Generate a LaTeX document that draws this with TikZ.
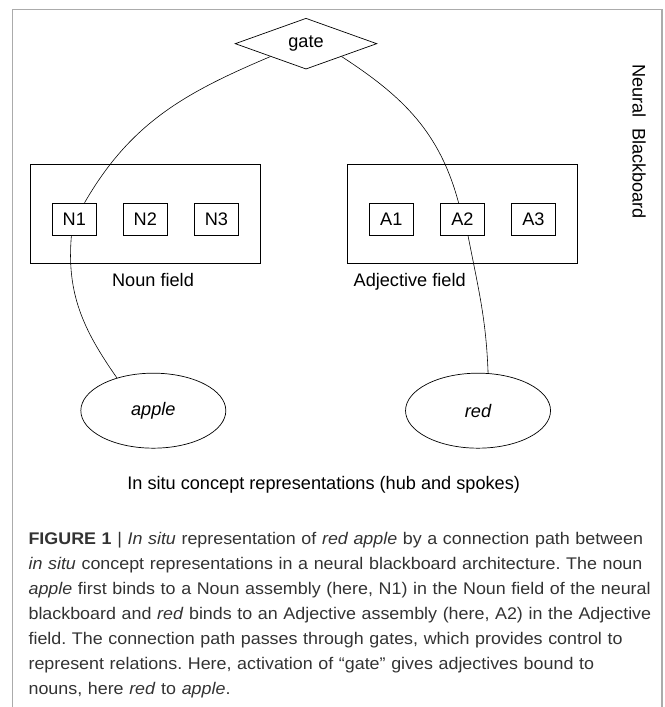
\documentclass[tikz,border=0pt]{standalone}
\usepackage{fontspec}
\setmainfont{Liberation Sans}
\newfontfamily\captionfamily[FakeStretch=1.06]{Liberation Sans}
\usepackage{xcolor}
\usepackage{tikz}
\usetikzlibrary{positioning,shapes.geometric}

\definecolor{framegray}{HTML}{ABABAB}
\definecolor{captiontext}{HTML}{333333}
\newcommand{\diagfont}{\fontsize{15.5}{18}\selectfont}
\newcommand{\captfont}{\captionfamily\fontsize{14.4}{21.3}\selectfont\frenchspacing}

\begin{document}
\begin{tikzpicture}[
        node distance=0.79cm and 0.79cm,
        field/.style={
            draw,
            line width=0.6pt,
            minimum width=6.88cm,
            minimum height=2.97cm
        },
        cell/.style={
            draw,
            line width=0.6pt,
            fill=white,
            inner sep=0pt,
            minimum width=1.32cm,
            minimum height=0.96cm,
            font=\diagfont
        },
        gatenode/.style={
            draw,
            diamond,
            line width=0.6pt,
            inner sep=0pt,
            minimum width=4.25cm,
            minimum height=1.17cm,
            font=\diagfont
        },
        concept/.style={
            draw,
            ellipse,
            line width=0.6pt,
            inner sep=0pt,
            minimum width=4.35cm,
            minimum height=2.25cm,
            font=\diagfont\itshape
        },
        plain/.style={
            inner sep=0pt,
            anchor=base,
            font=\diagfont
        },
        link/.style={line width=0.5pt}
    ]
        \useasboundingbox (0,0) rectangle (19.95,-21.21);

        % Moldura da figura
        \draw[framegray, line width=1pt] (0.38,-21.3) |- (19.86,-0.28) -- (19.86,-21.3);

        % Portão e campos do blackboard
        \node[gatenode] (gate) at (9.18,-1.31) {gate};
        \node[field] (nfield) at (4.36,-6.41) {};
        \node[field, right=2.61cm of nfield] (afield) {};

        % Assembleias de cada campo
        \node[cell, yshift=-0.165cm] (n2) at (nfield.center) {N2};
        \node[cell, left=of n2] (n1) {N1};
        \node[cell, right=of n2] (n3) {N3};

        \node[cell, yshift=-0.165cm] (a2) at (afield.center) {A2};
        \node[cell, left=of a2] (a1) {A1};
        \node[cell, right=of a2] (a3) {A3};

        % Rótulos
        \node[plain] (nlabel) at (4.59,-8.58) {Noun field};
        \node[plain] (alabel) at (12.29,-8.58) {Adjective field};
        \node[plain, anchor=center, rotate=-90] (board) at (19.17,-4.25) {Neural~~Blackboard};

        % Representações de conceito
        \node[concept] (apple) at (4.6,-12.32) {apple};
        \node[concept, right=5.37cm of apple] (red) {red};
        \node[plain] (hub) at (9.71,-14.68) {In situ concept representations (hub and spokes)};

        % Caminho de conexão
        \draw[link] (gate.south west) to[out=203, in=60] (n1.58);
        \draw[link] (n1.260) to[out=265, in=125] (apple.138);
        \draw[link] (gate.south east) to[out=-33, in=105] (a2.103);
        \draw[link] (a2.289) to[out=281, in=92] (red.75);

        % Legenda
        \node[anchor=base west, inner sep=0pt, align=left, text width=19.2cm,
              text=captiontext, font=\captfont] (caption) at (0.85,-16.33)
            {\textbf{FIGURE 1} | \textit{In situ} representation of \textit{red apple} by a connection path between\\
             \textit{in situ} concept representations in a neural blackboard architecture. The noun\\
             \textit{apple} first binds to a Noun assembly (here, N1) in the Noun field of the neural\\
             blackboard and \textit{red} binds to an Adjective assembly (here, A2) in the Adjective\\
             field. The connection path passes through gates, which provides control to\\
             represent relations. Here, activation of “gate” gives adjectives bound to\\
             nouns, here \textit{red} to \textit{apple}.};
    \end{tikzpicture}
\end{document}
